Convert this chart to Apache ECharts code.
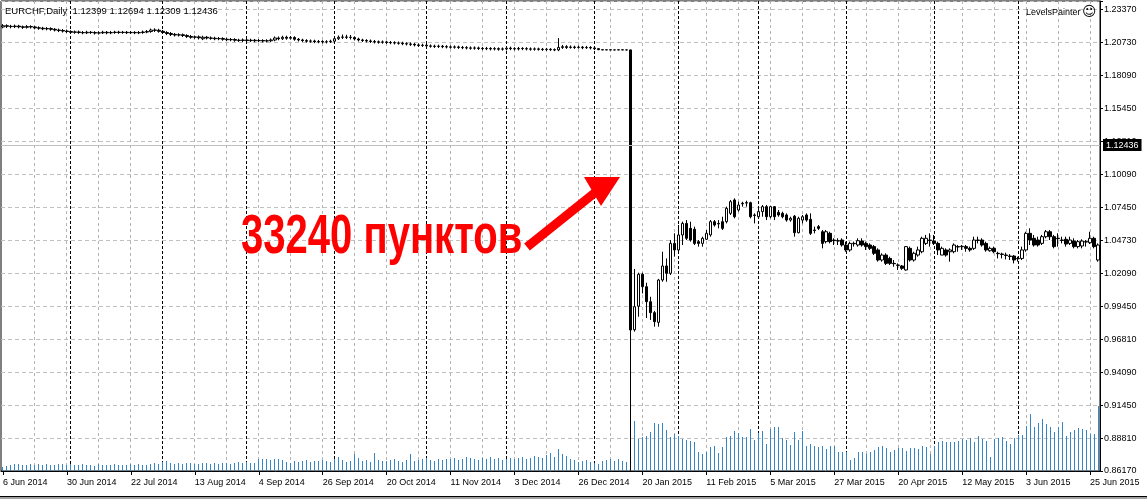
<!DOCTYPE html>
<html><head><meta charset="utf-8">
<script src="https://cdn.jsdelivr.net/npm/echarts@6/dist/echarts.min.js"></script>
<style>html,body{margin:0;padding:0;background:#fff}#c{width:1147px;height:499px}</style>
</head><body><div id="c"></div><script>
// ---- data ----
const headerText = 'EURCHF,Daily  1.12399 1.12694 1.12309 1.12436';
const priceTicks = ['0.86170','0.88810','0.91450','0.94090','0.96810','0.99450','1.02090','1.04730','1.07450','1.10090','1.12810','1.15450','1.18090','1.20730','1.23370'];
const priceMin = 0.8617, priceStep = 0.0265714, priceMax = 1.24041;
const bidPrice = 1.12436;
const holidays = ['2014-12-25', '2015-01-01'];
const monthNames = ['Jan','Feb','Mar','Apr','May','Jun','Jul','Aug','Sep','Oct','Nov','Dec'];

// [open, close, low, high]
const ohlcBefore = [
[1.2195,1.2205,1.2184,1.2218],[1.2205,1.2200,1.2186,1.2216],[1.2200,1.2198,1.2184,1.2212],[1.2198,1.2202,1.2186,1.2214],
[1.2202,1.2196,1.2184,1.2212],[1.2196,1.2192,1.2179,1.2206],[1.2192,1.2198,1.2182,1.2210],[1.2198,1.2195,1.2182,1.2208],
[1.2195,1.2188,1.2176,1.2204],[1.2188,1.2185,1.2172,1.2200],[1.2185,1.2180,1.2169,1.2196],[1.2180,1.2182,1.2168,1.2194],
[1.2182,1.2176,1.2164,1.2192],[1.2176,1.2170,1.2159,1.2186],[1.2170,1.2166,1.2154,1.2182],[1.2166,1.2162,1.2150,1.2178],
[1.2162,1.2158,1.2146,1.2174],[1.2158,1.2152,1.2142,1.2168],[1.2152,1.2155,1.2140,1.2166],[1.2155,1.2150,1.2139,1.2166],
[1.2150,1.2148,1.2136,1.2162],[1.2148,1.2152,1.2138,1.2164],[1.2152,1.2150,1.2139,1.2162],[1.2150,1.2146,1.2134,1.2161],
[1.2146,1.2148,1.2134,1.2160],[1.2148,1.2152,1.2138,1.2164],[1.2152,1.2148,1.2136,1.2162],[1.2148,1.2150,1.2137,1.2162],
[1.2150,1.2153,1.2140,1.2164],[1.2153,1.2150,1.2139,1.2164],[1.2150,1.2152,1.2140,1.2163],[1.2152,1.2149,1.2138,1.2162],
[1.2149,1.2151,1.2138,1.2162],[1.2151,1.2148,1.2137,1.2161],[1.2148,1.2150,1.2137,1.2162],[1.2150,1.2154,1.2140,1.2166],
[1.2154,1.2158,1.2144,1.2170],[1.2158,1.2170,1.2148,1.2182],[1.2170,1.2168,1.2154,1.2184],[1.2168,1.2160,1.2149,1.2180],
[1.2160,1.2150,1.2139,1.2171],[1.2150,1.2142,1.2130,1.2161],[1.2142,1.2135,1.2122,1.2154],[1.2135,1.2130,1.2118,1.2146],
[1.2130,1.2132,1.2118,1.2144],[1.2132,1.2126,1.2114,1.2142],[1.2126,1.2118,1.2106,1.2136],[1.2118,1.2112,1.2100,1.2130],
[1.2112,1.2115,1.2100,1.2126],[1.2115,1.2108,1.2094,1.2126],[1.2100,1.2112,1.2089,1.2124],[1.2112,1.2106,1.2094,1.2122],
[1.2106,1.2104,1.2092,1.2118],[1.2104,1.2100,1.2088,1.2116],[1.2100,1.2102,1.2088,1.2114],[1.2102,1.2096,1.2084,1.2112],
[1.2096,1.2092,1.2080,1.2108],[1.2092,1.2094,1.2080,1.2106],[1.2094,1.2088,1.2076,1.2104],[1.2088,1.2086,1.2074,1.2100],
[1.2086,1.2090,1.2074,1.2102],[1.2090,1.2085,1.2072,1.2100],[1.2085,1.2088,1.2074,1.2100],[1.2088,1.2084,1.2072,1.2098],
[1.2084,1.2086,1.2072,1.2098],[1.2086,1.2082,1.2070,1.2096],[1.2082,1.2084,1.2070,1.2096],[1.2084,1.2090,1.2074,1.2102],
[1.2090,1.2106,1.2080,1.2118],[1.2106,1.2100,1.2088,1.2118],[1.2100,1.2112,1.2090,1.2124],[1.2112,1.2104,1.2092,1.2124],
[1.2104,1.2110,1.2094,1.2122],[1.2110,1.2096,1.2084,1.2120],[1.2096,1.2090,1.2078,1.2106],[1.2090,1.2085,1.2074,1.2100],
[1.2085,1.2080,1.2068,1.2096],[1.2080,1.2082,1.2068,1.2094],[1.2082,1.2076,1.2064,1.2092],[1.2076,1.2078,1.2064,1.2090],
[1.2078,1.2074,1.2062,1.2088],[1.2074,1.2076,1.2062,1.2088],[1.2076,1.2080,1.2066,1.2092],[1.2080,1.2100,1.2070,1.2112],
[1.2100,1.2112,1.2090,1.2126],[1.2112,1.2114,1.2098,1.2134],[1.2114,1.2112,1.2098,1.2132],[1.2112,1.2110,1.2094,1.2130],
[1.2110,1.2098,1.2086,1.2120],[1.2098,1.2090,1.2078,1.2108],[1.2090,1.2086,1.2074,1.2100],[1.2086,1.2082,1.2070,1.2096],
[1.2082,1.2078,1.2066,1.2094],[1.2078,1.2075,1.2062,1.2090],[1.2075,1.2072,1.2060,1.2086],[1.2072,1.2074,1.2060,1.2086],
[1.2074,1.2070,1.2058,1.2084],[1.2070,1.2068,1.2056,1.2082],[1.2068,1.2066,1.2054,1.2080],[1.2066,1.2064,1.2052,1.2078],
[1.2064,1.2060,1.2048,1.2076],[1.2060,1.2058,1.2046,1.2072],[1.2058,1.2055,1.2042,1.2070],[1.2055,1.2050,1.2038,1.2066],
[1.2050,1.2046,1.2034,1.2062],[1.2046,1.2048,1.2034,1.2060],[1.2048,1.2042,1.2030,1.2058],[1.2042,1.2040,1.2028,1.2054],
[1.2040,1.2038,1.2026,1.2052],[1.2038,1.2040,1.2026,1.2052],[1.2040,1.2036,1.2024,1.2050],[1.2036,1.2034,1.2022,1.2048],
[1.2034,1.2032,1.2020,1.2046],[1.2032,1.2034,1.2020,1.2046],[1.2034,1.2030,1.2018,1.2044],[1.2030,1.2028,1.2016,1.2042],
[1.2028,1.2026,1.2014,1.2040],[1.2026,1.2024,1.2012,1.2038],[1.2024,1.2026,1.2012,1.2038],[1.2026,1.2022,1.2010,1.2036],
[1.2022,1.2020,1.2008,1.2034],[1.2020,1.2022,1.2008,1.2034],[1.2022,1.2018,1.2006,1.2032],[1.2018,1.2020,1.2006,1.2032],
[1.2020,1.2016,1.2004,1.2030],[1.2016,1.2018,1.2004,1.2030],[1.2018,1.2024,1.2006,1.2036],[1.2024,1.2020,1.2008,1.2036],
[1.2020,1.2018,1.2006,1.2032],[1.2018,1.2022,1.2006,1.2034],[1.2022,1.2020,1.2008,1.2032],[1.2020,1.2018,1.2006,1.2032],
[1.2018,1.2016,1.2004,1.2030],[1.2016,1.2018,1.2004,1.2030],[1.2018,1.2015,1.2004,1.2028],[1.2015,1.2013,1.2002,1.2026],
[1.2013,1.2015,1.2002,1.2026],[1.2015,1.2012,1.2002,1.2024],[1.2012,1.2010,1.2000,1.2022],[1.2010,1.2030,1.2000,1.2105],
[1.2030,1.2036,1.2018,1.2050],[1.2036,1.2030,1.2018,1.2048],[1.2030,1.2033,1.2020,1.2046],[1.2033,1.2030,1.2018,1.2044],
[1.2030,1.2032,1.2020,1.2044],[1.2032,1.2028,1.2016,1.2042],[1.2028,1.2030,1.2018,1.2042],[1.2030,1.2026,1.2014,1.2040],
[1.2026,1.2020,1.2008,1.2036],[1.2020,1.2012,1.2008,1.2024],[1.2012,1.2010,1.2008,1.2014],[1.2010,1.2011,1.2008,1.2013],
[1.2011,1.2010,1.2008,1.2013],[1.2010,1.2010,1.2008,1.2012],[1.2010,1.2011,1.2008,1.2013],[1.2011,1.2010,1.2008,1.2012],
[1.2010,1.2010,1.2008,1.2012]
];
const ohlcAfter = [
[1.2010,0.9753,0.8620,1.2012],
[0.9755,0.9941,0.9740,1.0245],[0.9945,1.0202,0.9860,1.0215],[1.0202,1.0102,1.0048,1.0215],[1.0102,0.9981,0.9850,1.0134],
[0.9981,0.9893,0.9834,1.0021],[0.9893,0.9820,0.9780,0.9907],[0.9815,1.0156,0.9780,1.0165],[1.0156,1.0269,1.0142,1.0384],
[1.0269,1.0210,1.0142,1.0330],[1.0210,1.0451,1.0196,1.0478],[1.0451,1.0398,1.0344,1.0532],[1.0398,1.0519,1.0384,1.0599],
[1.0519,1.0612,1.0438,1.0626],[1.0612,1.0492,1.0478,1.0639],[1.0572,1.0478,1.0465,1.0626],[1.0565,1.0451,1.0438,1.0586],
[1.0465,1.0451,1.0425,1.0478],[1.0451,1.0492,1.0425,1.0505],[1.0484,1.0532,1.0478,1.0559],[1.0519,1.0626,1.0505,1.0639],
[1.0626,1.0599,1.0586,1.0639],[1.0612,1.0608,1.0572,1.0639],[1.0626,1.0572,1.0559,1.0666],[1.0626,1.0733,1.0612,1.0747],
[1.0693,1.0787,1.0680,1.0801],[1.0801,1.0666,1.0653,1.0814],[1.0720,1.0760,1.0707,1.0787],[1.0774,1.0770,1.0747,1.0787],
[1.0779,1.0776,1.0747,1.0795],[1.0779,1.0666,1.0653,1.0787],[1.0680,1.0676,1.0612,1.0693],[1.0666,1.0707,1.0653,1.0733],
[1.0707,1.0747,1.0666,1.0760],[1.0747,1.0666,1.0639,1.0760],[1.0666,1.0747,1.0653,1.0752],[1.0747,1.0666,1.0639,1.0752],
[1.0701,1.0680,1.0666,1.0720],[1.0693,1.0666,1.0653,1.0707],[1.0680,1.0639,1.0626,1.0693],[1.0639,1.0653,1.0626,1.0666],
[1.0670,1.0537,1.0505,1.0680],[1.0537,1.0653,1.0532,1.0666],[1.0639,1.0666,1.0612,1.0680],[1.0680,1.0639,1.0626,1.0693],
[1.0645,1.0532,1.0519,1.0693],[1.0559,1.0555,1.0532,1.0586],[1.0586,1.0572,1.0559,1.0599],[1.0545,1.0451,1.0411,1.0559],
[1.0465,1.0545,1.0451,1.0559],[1.0532,1.0465,1.0451,1.0545],[1.0478,1.0474,1.0438,1.0492],[1.0473,1.0470,1.0438,1.0492],
[1.0478,1.0438,1.0425,1.0492],[1.0438,1.0398,1.0384,1.0465],[1.0398,1.0451,1.0384,1.0465],[1.0451,1.0448,1.0425,1.0465],
[1.0438,1.0473,1.0425,1.0492],[1.0470,1.0438,1.0425,1.0492],[1.0451,1.0425,1.0398,1.0465],[1.0438,1.0411,1.0398,1.0451],
[1.0425,1.0371,1.0357,1.0438],[1.0398,1.0317,1.0304,1.0411],[1.0317,1.0357,1.0304,1.0371],[1.0357,1.0290,1.0277,1.0371],
[1.0330,1.0290,1.0277,1.0344],[1.0290,1.0287,1.0263,1.0317],[1.0277,1.0274,1.0237,1.0290],[1.0269,1.0250,1.0237,1.0277],
[1.0237,1.0425,1.0231,1.0430],[1.0411,1.0317,1.0304,1.0425],[1.0317,1.0371,1.0304,1.0384],[1.0357,1.0398,1.0344,1.0425],
[1.0384,1.0492,1.0371,1.0505],[1.0451,1.0492,1.0438,1.0519],[1.0478,1.0475,1.0425,1.0532],[1.0470,1.0451,1.0438,1.0519],
[1.0451,1.0398,1.0357,1.0465],[1.0357,1.0411,1.0357,1.0425],[1.0398,1.0357,1.0344,1.0411],[1.0384,1.0398,1.0304,1.0411],
[1.0384,1.0438,1.0371,1.0451],[1.0425,1.0422,1.0384,1.0438],[1.0425,1.0428,1.0398,1.0438],[1.0425,1.0411,1.0384,1.0438],
[1.0411,1.0398,1.0384,1.0425],[1.0411,1.0478,1.0398,1.0505],[1.0478,1.0475,1.0451,1.0505],[1.0478,1.0438,1.0425,1.0492],
[1.0451,1.0398,1.0384,1.0465],[1.0392,1.0411,1.0384,1.0425],[1.0411,1.0384,1.0371,1.0425],[1.0371,1.0368,1.0330,1.0384],
[1.0365,1.0362,1.0330,1.0376],[1.0357,1.0354,1.0322,1.0376],[1.0349,1.0346,1.0317,1.0365],[1.0349,1.0317,1.0290,1.0357],
[1.0330,1.0327,1.0304,1.0344],[1.0330,1.0398,1.0317,1.0425],[1.0398,1.0532,1.0384,1.0545],[1.0532,1.0478,1.0438,1.0572],
[1.0492,1.0438,1.0425,1.0519],[1.0478,1.0438,1.0425,1.0505],[1.0451,1.0505,1.0438,1.0519],[1.0505,1.0545,1.0492,1.0559],
[1.0545,1.0505,1.0478,1.0559],[1.0505,1.0425,1.0411,1.0519],[1.0492,1.0489,1.0425,1.0532],[1.0478,1.0475,1.0451,1.0505],
[1.0484,1.0446,1.0425,1.0505],[1.0451,1.0478,1.0438,1.0505],[1.0470,1.0425,1.0411,1.0492],[1.0425,1.0465,1.0411,1.0478],
[1.0430,1.0470,1.0411,1.0484],[1.0465,1.0462,1.0425,1.0478],[1.0457,1.0492,1.0446,1.0545],[1.0492,1.0425,1.0411,1.0505],
[1.0317,1.0438,1.0304,1.0451]
];
const volumes = [
4,5,6,7,7,6,6,7,6,7,6,7,6,6,7,7,
6,7,6,6,7,6,6,5,7,6,6,6,7,6,6,6,
7,6,7,6,6,7,8,7,9,10,8,7,8,7,8,8,
7,7,8,8,7,8,7,8,8,7,8,9,8,9,8,8,
12,12,12,11,12,12,11,9,8,10,9,10,11,9,10,10,
11,10,9,12,14,11,9,10,17,13,10,11,9,18,11,10,
10,11,12,10,9,11,17,10,11,12,13,11,10,12,11,12,
12,13,11,12,14,13,12,11,13,12,14,12,13,11,12,13,
12,13,14,12,13,15,14,13,16,18,14,22,17,15,12,11,
9,10,11,9,8,7,10,11,12,10,12,10,9,
33,
50,32,34,35,39,48,47,48,41,34,37,35,32,31,30,29,19,17,19,24,
25,18,24,34,35,40,38,34,34,42,31,38,40,27,42,44,44,33,31,26,
39,31,40,25,27,25,24,25,22,25,25,19,19,19,11,13,19,19,17,19,
21,24,25,23,19,21,23,23,20,23,23,22,25,24,17,25,29,30,29,29,
29,30,32,31,33,29,35,32,30,14,32,33,34,30,27,33,36,36,45,57,
44,48,52,47,44,39,44,49,35,39,41,43,42,41,37,37,65
];
const ohlc = ohlcBefore.concat(ohlcAfter);

// trading-day calendar (weekdays without listed holidays)
const categories = [];
const monthStarts = [];
(function () {
  const d = new Date(Date.UTC(2014, 5, 6));
  let lastMonth = d.getUTCMonth();
  while (categories.length < ohlc.length) {
    const wd = d.getUTCDay();
    const key = d.toISOString().slice(0, 10);
    if (wd !== 0 && wd !== 6 && holidays.indexOf(key) < 0) {
      if (d.getUTCMonth() !== lastMonth) { monthStarts.push(categories.length); lastMonth = d.getUTCMonth(); }
      categories.push(d.getUTCDate() + ' ' + monthNames[d.getUTCMonth()] + ' ' + d.getUTCFullYear());
    }
    d.setUTCDate(d.getUTCDate() + 1);
  }
})();
const gridIdx = [];
for (let i = 8; i < categories.length; i += 8) gridIdx.push(i);
const vIdx = monthStarts.concat(gridIdx);

// one custom series draws both the grey 8-bar grid and the black month separators
const vLines = {
  type: 'custom', xAxisIndex: 0, yAxisIndex: 0, z: 1, silent: true, clip: false,
  data: vIdx.map(i => [i, priceMin]), encode: { x: 0, y: 1 },
  renderItem: (params, api) => {
    const cs = params.coordSys;
    const idx = api.value(0);
    const isMonth = monthStarts.indexOf(idx) >= 0;
    const x = Math.floor(api.coord([idx, api.value(1)])[0]) + 0.5;
    return { type: 'line', silent: true,
      shape: { x1: x, y1: cs.y, x2: x, y2: cs.y + cs.height },
      style: isMonth ? { stroke: '#000000', lineWidth: 1, lineDash: [3, 2] }
                     : { stroke: '#b4b4b4', lineWidth: 1, lineDash: [3, 3] } };
  }
};

const bidLine = [{
  yAxis: bidPrice, lineStyle: { color: '#c0c0c0', type: 'solid', width: 1 },
  label: { show: true, position: 'end', distance: 3, formatter: bidPrice.toFixed(5), color: '#fff',
    backgroundColor: '#000', padding: [2, 3, 1, 3], fontSize: 9, fontFamily: 'Liberation Sans' }
}];

const FONT = 'Liberation Sans';
const chart = echarts.init(document.getElementById('c'), null, { renderer: 'canvas' });
chart.setOption({
  animation: false,
  backgroundColor: '#fff',
  grid: [
    { left: 0, right: 47, top: 1, bottom: 28, show: true, borderColor: '#000', borderWidth: 1, backgroundColor: 'transparent' },
    { left: 0.5, right: 46.5, top: 1, bottom: 28 }
  ],
  xAxis: [
    { type: 'category', gridIndex: 0, data: categories, boundaryGap: true,
      axisLine: { show: true, lineStyle: { color: '#000' } },
      axisTick: { show: true, alignWithLabel: true, interval: i => i % 16 === 0, length: 4, lineStyle: { color: '#000' } },
      axisLabel: { interval: i => i % 16 === 0, align: 'left', margin: 7, fontSize: 9, fontFamily: FONT, color: '#000' },
      splitLine: { show: false } },
    { type: 'category', gridIndex: 1, data: categories, boundaryGap: true, show: false }
  ],
  yAxis: [
    { type: 'value', gridIndex: 0, position: 'right', min: priceMin, max: priceMax, interval: priceStep,
      axisLine: { show: true, lineStyle: { color: '#000' } },
      axisTick: { show: true, length: 3, lineStyle: { color: '#000' } },
      axisLabel: { margin: 4, fontSize: 9, fontFamily: FONT, color: '#000',
        formatter: v => { const k = (v - priceMin) / priceStep; const r = Math.round(k);
          return (Math.abs(k - r) < 0.02 && priceTicks[r]) ? priceTicks[r] : ''; } },
      splitLine: { show: true, lineStyle: { color: '#c0c0c0', type: [4, 3] } } },
    { type: 'value', gridIndex: 1, min: 0, max: 470, show: false, splitLine: { show: false } }
  ],
  series: [
    vLines,
    { type: 'line', xAxisIndex: 0, yAxisIndex: 0, data: categories.map(() => '-'), z: 1, silent: true,
      markLine: { silent: true, precision: 6, symbol: ['none', 'none'], animation: false, data: bidLine } },
    { type: 'bar', xAxisIndex: 1, yAxisIndex: 1, data: volumes, barWidth: 1, z: 2, silent: true,
      itemStyle: { color: '#3487c4' } },
    { type: 'candlestick', xAxisIndex: 0, yAxisIndex: 0, data: ohlc, barWidth: 3, z: 3, silent: true,
      itemStyle: { color: '#ffffff', color0: '#000000', borderColor: '#000000', borderColor0: '#000000', borderWidth: 1 } }
  ],
  graphic: [
    { type: 'text', left: 5, top: 6, z: 10, style: { text: headerText, font: '9.5px "Liberation Sans"', fill: '#000' } },
    { type: 'text', left: 1026, top: 8, z: 10, style: { text: 'LevelsPainter', font: '9px "Liberation Sans"', fill: '#000' } },
    { type: 'text', left: 1082, top: 5, z: 10, style: { text: '\u263A', font: '14px "DejaVu Sans"', fill: '#000' } },
    { type: 'line', z: 20, shape: { x1: 527, y1: 247, x2: 597, y2: 191 }, style: { stroke: '#fe0000', lineWidth: 9 } },
    { type: 'polygon', z: 20, shape: { points: [[620, 177], [584, 177], [601, 206]] }, style: { fill: '#fe0000' } },
    { type: 'text', x: 241, y: 238, scaleX: 0.715, z: 20,
      style: { text: '33240 пунктов', x: 0, y: 0, font: 'bold 56px "Liberation Sans"', fill: '#fe0000', align: 'left', verticalAlign: 'middle' } },
    { type: 'rect', z: 10, shape: { x: 0, y: 496, width: 1147, height: 1 }, style: { fill: '#000' } },
    { type: 'rect', z: 10, shape: { x: 0, y: 497, width: 1147, height: 2 }, style: { fill: '#a0a0a0' } }
  ]
});
</script></body></html>
